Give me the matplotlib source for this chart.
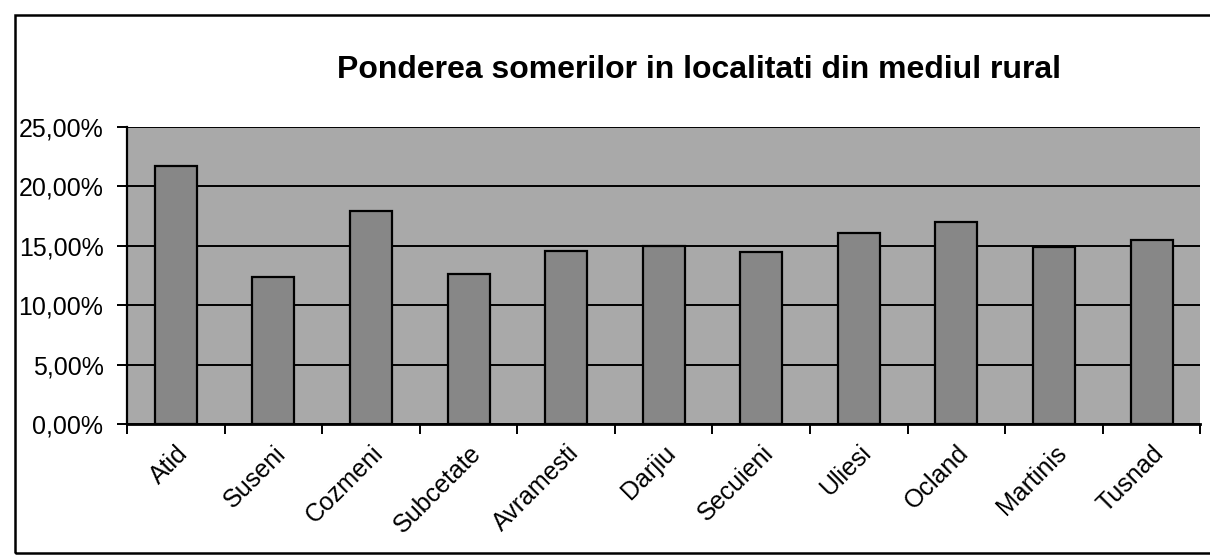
import matplotlib
matplotlib.use("Agg")
import matplotlib.pyplot as plt
from matplotlib.patches import Rectangle
from matplotlib.ticker import FuncFormatter, FixedLocator

plt.rcParams["font.family"] = ["Liberation Sans", "DejaVu Sans"]

localitati = ["Atid", "Suseni", "Cozmeni", "Subcetate", "Avramesti", "Darjiu",
              "Secuieni", "Uliesi", "Ocland", "Martinis", "Tusnad"]
pondere = [21.7, 12.4, 17.9, 12.6, 14.6, 15.0, 14.5, 16.1, 17.0, 14.9, 15.5]
y_ticks = [0, 5, 10, 15, 20, 25]

BG = "#a9a9a9"
BAR = "#878787"

fig = plt.figure(figsize=(12.1, 5.56), dpi=100, facecolor="white")
ax = fig.add_axes([0.105, 0.237, 0.887, 0.535])
ax.set_facecolor(BG)

x = list(range(len(localitati)))
ax.bar(x, pondere, width=0.43, color=BAR, edgecolor="black", linewidth=1.6, zorder=3)

ax.set_xlim(-0.5, len(localitati) - 0.5)
ax.set_ylim(0, 25)
ax.set_yticks(y_ticks)
ax.yaxis.set_major_formatter(FuncFormatter(lambda v, p: f"{v:.2f}".replace(".", ",") + "%"))
ax.grid(axis="y", color="black", linewidth=1.4, zorder=1)

ax.set_xticks(x)
ax.set_xticklabels(localitati, rotation=45, ha="right", rotation_mode="anchor", fontsize=18)
ax.tick_params(axis="x", which="major", length=0, pad=12)
ax.xaxis.set_minor_locator(FixedLocator([i - 0.5 for i in range(len(localitati) + 1)]))
ax.tick_params(axis="x", which="minor", length=7, width=1.4, direction="out")
ax.tick_params(axis="y", length=7, width=1.4, direction="out", labelsize=18, pad=10)

for side in ("top", "right"):
    ax.spines[side].set_visible(False)
ax.spines["left"].set_linewidth(1.6)
ax.spines["bottom"].set_linewidth(2)

fig.text(0.578, 0.874, "Ponderea somerilor in localitati din mediul rural",
         ha="center", va="center", fontsize=23, fontweight="bold")

# outer chart frame
fig.patches.append(Rectangle((15 / 1210, 3 / 556), 1.1, 1 - 18 / 556,
                             transform=fig.transFigure, fill=False,
                             edgecolor="black", linewidth=1.8))

fig.savefig("out.png", dpi=100, facecolor="white")
